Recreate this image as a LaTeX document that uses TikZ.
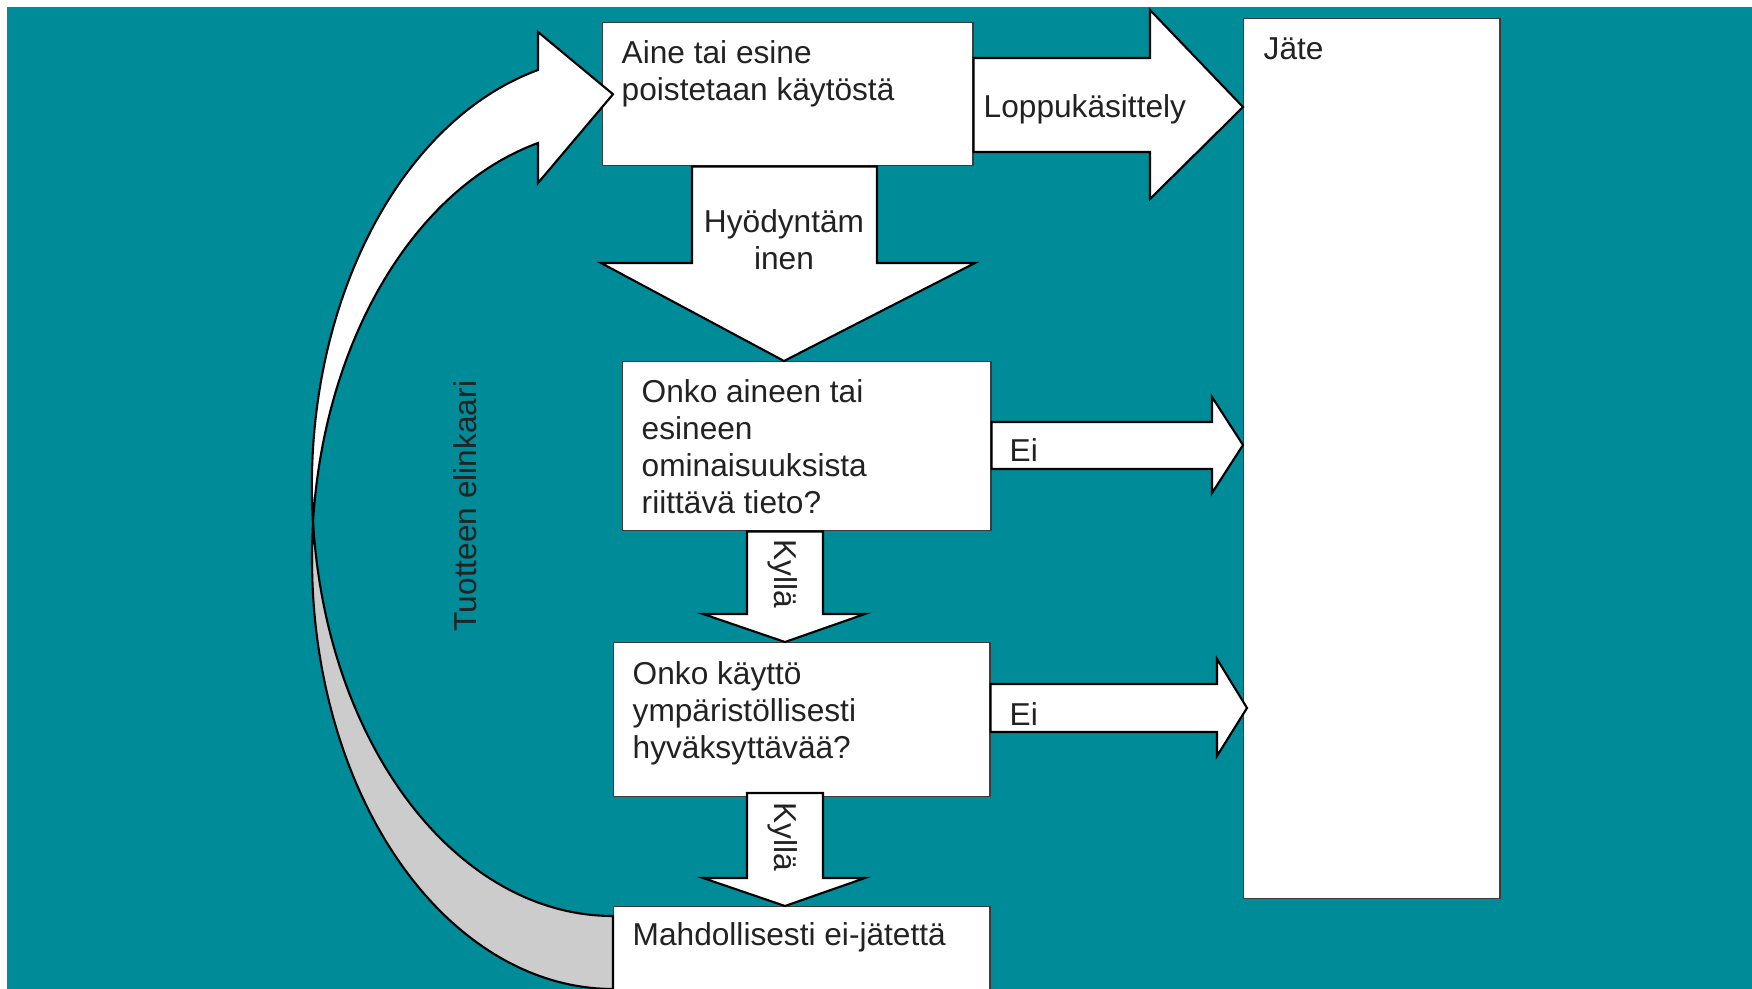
\documentclass[tikz,border=0pt]{standalone}
\usepackage{fontspec}
\setmainfont{Liberation Sans}
\usetikzlibrary{calc}

\definecolor{bgteal}{RGB}{0,139,153}
\definecolor{boxline}{RGB}{60,60,60}
\definecolor{txtgray}{RGB}{34,34,34}
\definecolor{backgray}{RGB}{204,204,204}

\begin{document}
\begin{tikzpicture}[x=0.01cm,y=-0.01cm,
  box/.style={draw=boxline,fill=white,line width=0.4pt,inner sep=0pt,anchor=north west},
  blockarrow/.style={draw=black,fill=white,line width=0.6pt,line join=miter},
  txt/.style={inner sep=0pt,text=txtgray,font=\fontsize{9}{10.5}\selectfont,align=left,anchor=north west}]

\useasboundingbox (0,0) rectangle (1752,989);
\clip (0,0) rectangle (1752,989);
\fill[white] (0,0) rectangle (1752,989);
\fill[bgteal] (7,7) rectangle (1752,989);

% boxes
\node[box,minimum width=3.70cm,minimum height=1.43cm] (aine) at (602,22) {};
\node[box,minimum width=2.56cm,minimum height=8.79cm] (jate) at (1243,18) {};
\node[box,minimum width=3.68cm,minimum height=1.69cm] (tieto) at (622,361) {};
\node[box,minimum width=3.76cm,minimum height=1.54cm] (kaytto) at (613,642) {};
\node[box,minimum width=3.76cm,minimum height=1.40cm] (mahd) at (613,906) {};

% block arrows
\draw[blockarrow] (aine.east |- 0,58) -- (1150,58) -- (1150,10) -- (jate.west |- 0,107)
  -- (1150,199) -- (1150,152) -- (aine.east |- 0,152) -- cycle;
\draw[blockarrow] (692,0 |- aine.south) -- (877,0 |- aine.south) -- (877,263) -- (975,263)
  -- (784,0 |- tieto.north) -- (601,263) -- (692,263) -- cycle;
\draw[blockarrow] (tieto.east |- 0,422) -- (1212,422) -- (1212,397) -- (jate.west |- 0,445)
  -- (1212,493) -- (1212,469) -- (tieto.east |- 0,469) -- cycle;
\draw[blockarrow] (kaytto.east |- 0,684) -- (1217,684) -- (1217,659) -- ($(jate.west |- 0,708)+(4,0)$)
  -- (1217,756) -- (1217,732) -- (kaytto.east |- 0,732) -- cycle;
\draw[blockarrow] (747,0 |- tieto.south) -- (823,0 |- tieto.south) -- (823,614) -- (865,614)
  -- (785,0 |- kaytto.north) -- (703,614) -- (747,614) -- cycle;
\draw[blockarrow] (747,793) -- (823,793) -- (823,878) -- (865,878)
  -- (785,0 |- mahd.north) -- (703,878) -- (747,878) -- cycle;

% curved arrow back to the top (two ellipses, one shifted down by the band width)
\coordinate (cross) at (313.1,522.5);
\draw[blockarrow,fill=backgray] (cross) arc[start angle=184.87,end angle=90,x radius=301,y radius=430]
  -- (mahd.west |- 0,916) arc[start angle=90,end angle=175.13,x radius=301,y radius=430] -- cycle;
\draw[blockarrow] (538,70) arc[start angle=255.6,end angle=175.13,x radius=301,y radius=430]
  arc[start angle=184.87,end angle=255.6,x radius=301,y radius=430]
  -- (538,183) -- ($(aine.west)+(11,0)$) -- (538,32) -- cycle;

% texts
\node[txt] (ainetxt) at (621,40) {Aine tai esine\\poistetaan käytöstä};
\node[txt] (lopputxt) at (983,94) {Loppukäsittely};
\node[txt] (jatetxt) at (1263,37) {Jäte};
\node[txt,align=center,anchor=north] (hyotxt) at (784,209) {Hyödyntäm\\inen};
\node[txt] (tietotxt) at (641,379) {Onko aineen tai\\esineen\\ominaisuuksista\\riittävä tieto?};
\node[txt] (ei1txt) at (1009,438) {Ei};
\node[txt] (ei2txt) at (1009,702) {Ei};
\node[txt] (kaytxt) at (632,661) {Onko käyttö\\ympäristöllisesti\\hyväksyttävää?};
\node[txt] (mahdtxt) at (632,922) {Mahdollisesti ei-jätettä};
\node[txt,anchor=center,rotate=-90] (kylla1) at (783,574) {Kyllä};
\node[txt,anchor=center,rotate=-90] (kylla2) at (783,837) {Kyllä};
\node[txt,anchor=center,rotate=90] (elinkaari) at (465,506) {Tuotteen elinkaari};

\end{tikzpicture}
\end{document}
